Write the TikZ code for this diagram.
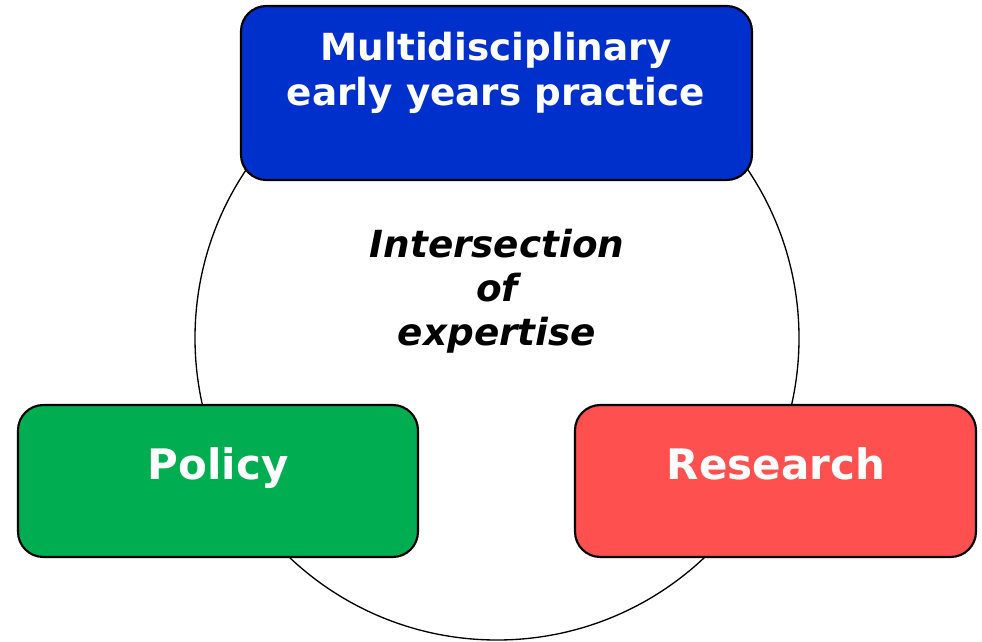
\documentclass[tikz,border=0pt]{standalone}
\usepackage{fontspec}
\setmainfont{DejaVu Sans}
\begin{document}
\begin{tikzpicture}[x=0.75pt,y=-0.75pt,
  area/.style={draw=black,line width=1.6pt,rounded corners=19pt},
  boxlabel/.style={text=white,font=\fontsize{28}{33}\selectfont\bfseries,align=center,anchor=base,inner sep=0pt},
  biglabel/.style={boxlabel,font=\fontsize{31.5}{36}\selectfont\bfseries},
  centrelabel/.style={font=\fontsize{28}{33}\selectfont\bfseries\itshape,align=center,anchor=base,inner sep=0pt}]
\useasboundingbox (0,0) rectangle (982,642);
\definecolor{practiceblue}{HTML}{0030CC}
\definecolor{policygreen}{HTML}{00AD50}
\definecolor{researchred}{HTML}{FF5050}
% the shared ring behind the three fields
\node[draw=black,line width=1pt,circle,minimum size=604*0.75pt,inner sep=0pt] (ring) at (497,338) {};
% the three fields
\filldraw[area,fill=practiceblue] (241,6) rectangle (752,180);
\coordinate (practice) at (496,93);
\filldraw[area,fill=policygreen] (18,405) rectangle (418,557);
\coordinate (policy) at (218,481);
\filldraw[area,fill=researchred] (575,405) rectangle (976,557);
\coordinate (research) at (775,481);
% labels (base anchor sits on the last line of a multi-line node)
\node[boxlabel] (practicetext) at (496,105) {Multidisciplinary\\early years practice};
\node[biglabel] (policytext) at (218,479) {Policy};
\node[biglabel] (researchtext) at (776,479) {Research};
\node[centrelabel] (centre) at (497,345) {Intersection\\of\\expertise};
\end{tikzpicture}
\end{document}
